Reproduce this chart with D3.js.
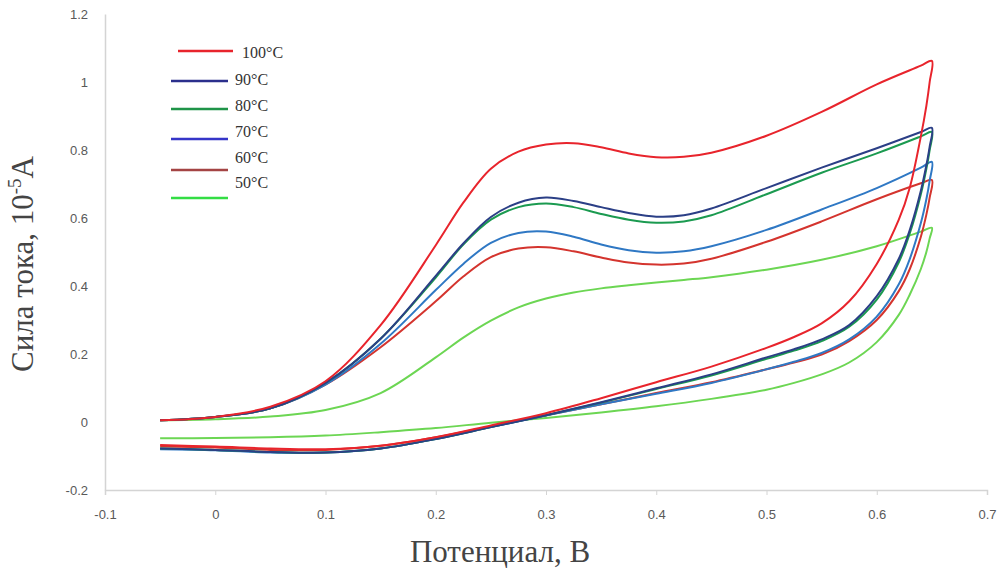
<!DOCTYPE html>
<html>
<head>
<meta charset="utf-8">
<script src="https://cdnjs.cloudflare.com/ajax/libs/d3/7.8.5/d3.min.js"></script>
<style>
  body { margin: 0; background: #fff; }
  #chart svg { display: block; }
</style>
</head>
<body>
<div id="chart"></div>
<script>
// potentials of the forward (anodic) and reverse (cathodic) scans, V
const fwdE = [-0.05, 0, 0.05, 0.1, 0.15, 0.2, 0.225, 0.25, 0.275, 0.3, 0.325, 0.35, 0.375, 0.4, 0.425, 0.45, 0.5, 0.55, 0.6, 0.64, 0.65];
const revE = [0.648, 0.645, 0.64, 0.63, 0.62, 0.6, 0.575, 0.55, 0.525, 0.5, 0.45, 0.4, 0.35, 0.3, 0.25, 0.2, 0.15, 0.1, 0.05, 0, -0.05];

// currents, 10^-5 A
const fwd100 = [0.005, 0.015, 0.045, 0.12, 0.285, 0.52, 0.645, 0.745, 0.795, 0.816, 0.82, 0.808, 0.79, 0.779, 0.78, 0.792, 0.842, 0.912, 0.993, 1.048, 1.062];
const rev100 = [1.0, 0.93, 0.84, 0.69, 0.595, 0.465, 0.355, 0.29, 0.25, 0.218, 0.163, 0.117, 0.07, 0.026, -0.01, -0.045, -0.07, -0.08, -0.078, -0.072, -0.068];
const fwd90 = [0.005, 0.015, 0.04, 0.115, 0.245, 0.43, 0.525, 0.603, 0.645, 0.66, 0.65, 0.632, 0.615, 0.604, 0.608, 0.628, 0.688, 0.748, 0.805, 0.853, 0.865];
const rev90 = [0.81, 0.755, 0.68, 0.565, 0.48, 0.37, 0.285, 0.243, 0.214, 0.19, 0.14, 0.099, 0.058, 0.02, -0.015, -0.05, -0.078, -0.09, -0.088, -0.082, -0.078];
const fwd80 = [0.005, 0.015, 0.04, 0.115, 0.245, 0.425, 0.522, 0.595, 0.632, 0.643, 0.632, 0.612, 0.595, 0.586, 0.59, 0.608, 0.67, 0.733, 0.79, 0.84, 0.853];
const rev80 = [0.8, 0.745, 0.67, 0.555, 0.47, 0.36, 0.28, 0.238, 0.21, 0.186, 0.137, 0.097, 0.057, 0.02, -0.015, -0.05, -0.078, -0.09, -0.088, -0.082, -0.078];
const fwd70 = [0.005, 0.015, 0.04, 0.11, 0.23, 0.388, 0.465, 0.527, 0.556, 0.56, 0.545, 0.522, 0.505, 0.498, 0.502, 0.517, 0.565, 0.625, 0.688, 0.748, 0.765];
const rev70 = [0.71, 0.655, 0.585, 0.48, 0.405, 0.31, 0.243, 0.203, 0.177, 0.155, 0.115, 0.083, 0.052, 0.019, -0.015, -0.05, -0.078, -0.09, -0.09, -0.083, -0.08];
const fwd60 = [0.005, 0.015, 0.04, 0.11, 0.22, 0.355, 0.428, 0.485, 0.51, 0.514, 0.502, 0.484, 0.469, 0.463, 0.466, 0.48, 0.53, 0.59, 0.655, 0.702, 0.712];
const rev60 = [0.66, 0.61, 0.545, 0.45, 0.385, 0.3, 0.238, 0.198, 0.175, 0.155, 0.117, 0.085, 0.052, 0.02, -0.013, -0.045, -0.07, -0.082, -0.082, -0.075, -0.072];
const fwd50 = [0.005, 0.008, 0.016, 0.035, 0.085, 0.19, 0.248, 0.298, 0.337, 0.363, 0.381, 0.393, 0.402, 0.41, 0.418, 0.426, 0.448, 0.477, 0.517, 0.56, 0.571];
const rev50 = [0.54, 0.5, 0.45, 0.375, 0.315, 0.235, 0.175, 0.14, 0.115, 0.095, 0.068, 0.046, 0.028, 0.012, -0.002, -0.018, -0.03, -0.04, -0.045, -0.047, -0.048];

const labels = ["100°C", "90°C", "80°C", "70°C", "60°C", "50°C"];
const lineColors = ["#e8242c", "#2b3f86", "#1b9a50", "#2f78c4", "#d4342e", "#6cd653"];
const legendColors = ["#e8242c", "#2b2f8c", "#1f9448", "#3535c8", "#a44444", "#33dd44"];

const xTicks = [-0.1, 0, 0.1, 0.2, 0.3, 0.4, 0.5, 0.6, 0.7];
const yTicks = [-0.2, 0, 0.2, 0.4, 0.6, 0.8, 1, 1.2];

const series = [
  [fwd100, rev100], [fwd90, rev90], [fwd80, rev80],
  [fwd70, rev70], [fwd60, rev60], [fwd50, rev50]
].map(function (s, i) {
  const pts = fwdE.map((e, k) => [e, s[0][k]]).concat(revE.map((e, k) => [e, s[1][k]]));
  return { name: labels[i], color: lineColors[i], legend: legendColors[i], points: pts };
});

const W = 1001, H = 571;
const margin = { top: 14, right: 14, bottom: 81, left: 105 };

const svg = d3.select("#chart")
  .append("svg")
  .attr("width", W)
  .attr("height", H);

const x = d3.scaleLinear().domain([-0.1, 0.7]).range([margin.left, W - margin.right]);
const y = d3.scaleLinear().domain([-0.2, 1.2]).range([H - margin.bottom, margin.top]);

const fmt = d => String(+d.toFixed(1)); // plain hyphen minus, as in the original

// axes
const xAxis = svg.append("g")
  .attr("transform", `translate(0, ${y(-0.2)})`)
  .call(d3.axisBottom(x).tickValues(xTicks).tickSize(5).tickPadding(15).tickFormat(fmt));
xAxis.select(".domain").attr("stroke", "#d4d4d4").attr("stroke-width", 1.5);
xAxis.selectAll(".tick line").attr("stroke", "#d4d4d4");
xAxis.selectAll("text")
  .attr("fill", "#595959")
  .style("font", "13px 'Liberation Sans', Arial, sans-serif");

const yAxis = svg.append("g")
  .attr("transform", `translate(${x(-0.1)}, 0)`)
  .call(d3.axisLeft(y).tickValues(yTicks).tickSize(0).tickPadding(17).tickFormat(fmt));
yAxis.select(".domain").attr("stroke", "#d4d4d4").attr("stroke-width", 1.5);
yAxis.selectAll("text")
  .attr("fill", "#595959")
  .style("font", "13px 'Liberation Sans', Arial, sans-serif");

// curves
const line = d3.line()
  .x(d => x(d[0]))
  .y(d => y(d[1]))
  .curve(d3.curveCatmullRom.alpha(0.5));

svg.append("g")
  .selectAll("path")
  .data(series.slice().reverse())
  .join("path")
  .attr("d", d => line(d.points))
  .attr("fill", "none")
  .attr("stroke", d => d.color)
  .attr("stroke-width", 2)
  .attr("stroke-linejoin", "round");

// legend
const lineY = [51, 81, 109, 139, 170, 198];
const textY = [52, 79, 105, 131, 157, 182];
const legend = svg.append("g");
series.forEach(function (s, i) {
  legend.append("line")
    .attr("x1", i === 0 ? 178 : 171)
    .attr("x2", i === 0 ? 233 : 228)
    .attr("y1", lineY[i])
    .attr("y2", lineY[i])
    .attr("stroke", s.legend)
    .attr("stroke-width", 2.5);
  legend.append("text")
    .attr("x", i === 0 ? 242 : 235)
    .attr("y", textY[i])
    .attr("dy", "0.35em")
    .attr("fill", "#333")
    .style("font", "16px 'Liberation Serif', 'Times New Roman', serif")
    .text(s.name);
});

// axis titles
const yTitle = svg.append("text")
  .attr("transform", "translate(33, 264) rotate(-90)")
  .attr("text-anchor", "middle")
  .attr("fill", "#444")
  .style("font", "31px 'Liberation Serif', 'Times New Roman', serif");
yTitle.append("tspan").text("Сила тока, 10");
yTitle.append("tspan").attr("dy", -12).style("font-size", "19px").text("-5");
yTitle.append("tspan").attr("dy", 12).text("А");

svg.append("text")
  .attr("x", 500)
  .attr("y", 562)
  .attr("text-anchor", "middle")
  .attr("fill", "#444")
  .style("font", "31px 'Liberation Serif', 'Times New Roman', serif")
  .text("Потенциал, В");
</script>
</body>
</html>
